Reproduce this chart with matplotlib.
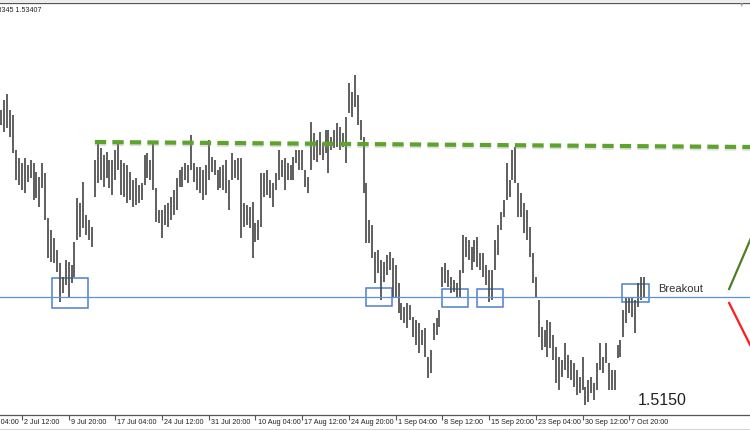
import matplotlib
matplotlib.use('Agg')
import numpy as np
import matplotlib.pyplot as plt
import matplotlib.transforms as mtransforms
import matplotlib.patheffects as pe
from matplotlib.patches import Rectangle

plt.rcParams['font.family'] = ['Liberation Sans', 'DejaVu Sans']

# GBPUSD H4 bars, high / low
highs = [1.5700, 1.5720, 1.5732, 1.5700, 1.5690, 1.5620, 1.5604, 1.5594, 1.5604, 1.5590,
         1.5600, 1.5594, 1.5576, 1.5566, 1.5594, 1.5574, 1.5484, 1.5460, 1.5444, 1.5420,
         1.5394, 1.5366, 1.5400, 1.5396, 1.5390, 1.5436, 1.5524, 1.5514, 1.5556, 1.5490,
         1.5480, 1.5466, 1.5600, 1.5634, 1.5624, 1.5610, 1.5616, 1.5600, 1.5600, 1.5620,
         1.5632, 1.5600, 1.5594, 1.5590, 1.5576, 1.5560, 1.5564, 1.5550, 1.5554, 1.5610,
         1.5614, 1.5600, 1.5634, 1.5544, 1.5500, 1.5500, 1.5510, 1.5514, 1.5526, 1.5540,
         1.5564, 1.5580, 1.5586, 1.5594, 1.5590, 1.5650, 1.5594, 1.5586, 1.5586, 1.5580,
         1.5590, 1.5640, 1.5606, 1.5600, 1.5580, 1.5586, 1.5590, 1.5600, 1.5560, 1.5614,
         1.5600, 1.5604, 1.5604, 1.5514, 1.5510, 1.5506, 1.5516, 1.5474, 1.5480, 1.5574,
         1.5574, 1.5580, 1.5560, 1.5554, 1.5574, 1.5620, 1.5600, 1.5604, 1.5594, 1.5590,
         1.5606, 1.5620, 1.5620, 1.5620, 1.5580, 1.5566, 1.5676, 1.5654, 1.5640, 1.5656,
         1.5634, 1.5660, 1.5660, 1.5646, 1.5660, 1.5674, 1.5666, 1.5654, 1.5686, 1.5754,
         1.5736, 1.5770, 1.5730, 1.5680, 1.5646, 1.5554, 1.5480, 1.5470, 1.5416, 1.5420,
         1.5400, 1.5396, 1.5410, 1.5416, 1.5404, 1.5390, 1.5354, 1.5314, 1.5306, 1.5314,
         1.5310, 1.5286, 1.5280, 1.5274, 1.5260, 1.5264, 1.5206, 1.5220, 1.5274, 1.5284,
         1.5300, 1.5386, 1.5394, 1.5380, 1.5366, 1.5360, 1.5354, 1.5380, 1.5450, 1.5446,
         1.5440, 1.5426, 1.5440, 1.5446, 1.5414, 1.5414, 1.5390, 1.5380, 1.5380, 1.5440,
         1.5470, 1.5496, 1.5520, 1.5594, 1.5560, 1.5620, 1.5626, 1.5554, 1.5534, 1.5514,
         1.5500, 1.5466, 1.5414, 1.5366, 1.5320, 1.5266, 1.5260, 1.5280, 1.5276, 1.5250,
         1.5226, 1.5206, 1.5200, 1.5234, 1.5210, 1.5200, 1.5194, 1.5180, 1.5166, 1.5206,
         1.5146, 1.5160, 1.5166, 1.5154, 1.5194, 1.5234, 1.5206, 1.5234, 1.5194, 1.5180,
         1.5180, 1.5230, 1.5240, 1.5300, 1.5326, 1.5326, 1.5326, 1.5320, 1.5354, 1.5366,
         1.5366]
lows = [1.5670, 1.5656, 1.5664, 1.5646, 1.5614, 1.5560, 1.5550, 1.5540, 1.5534, 1.5556,
        1.5564, 1.5520, 1.5524, 1.5506, 1.5544, 1.5480, 1.5404, 1.5396, 1.5394, 1.5376,
        1.5316, 1.5334, 1.5350, 1.5326, 1.5354, 1.5366, 1.5440, 1.5446, 1.5464, 1.5450,
        1.5440, 1.5426, 1.5526, 1.5554, 1.5560, 1.5546, 1.5564, 1.5544, 1.5530, 1.5560,
        1.5580, 1.5530, 1.5526, 1.5514, 1.5520, 1.5506, 1.5510, 1.5514, 1.5520, 1.5550,
        1.5564, 1.5560, 1.5540, 1.5476, 1.5474, 1.5444, 1.5470, 1.5466, 1.5480, 1.5490,
        1.5500, 1.5546, 1.5546, 1.5560, 1.5554, 1.5580, 1.5556, 1.5540, 1.5534, 1.5520,
        1.5530, 1.5560, 1.5576, 1.5570, 1.5540, 1.5544, 1.5540, 1.5534, 1.5500, 1.5560,
        1.5564, 1.5560, 1.5444, 1.5466, 1.5470, 1.5464, 1.5404, 1.5436, 1.5440, 1.5466,
        1.5526, 1.5530, 1.5524, 1.5506, 1.5540, 1.5560, 1.5566, 1.5540, 1.5560, 1.5560,
        1.5560, 1.5594, 1.5580, 1.5580, 1.5546, 1.5534, 1.5580, 1.5600, 1.5596, 1.5610,
        1.5600, 1.5614, 1.5574, 1.5620, 1.5624, 1.5626, 1.5620, 1.5626, 1.5594, 1.5694,
        1.5686, 1.5706, 1.5670, 1.5640, 1.5534, 1.5434, 1.5434, 1.5404, 1.5354, 1.5374,
        1.5320, 1.5356, 1.5370, 1.5380, 1.5324, 1.5326, 1.5294, 1.5280, 1.5274, 1.5264,
        1.5280, 1.5246, 1.5230, 1.5214, 1.5230, 1.5206, 1.5164, 1.5174, 1.5240, 1.5250,
        1.5266, 1.5346, 1.5354, 1.5346, 1.5334, 1.5336, 1.5326, 1.5326, 1.5374, 1.5406,
        1.5400, 1.5380, 1.5396, 1.5386, 1.5380, 1.5366, 1.5350, 1.5316, 1.5320, 1.5380,
        1.5410, 1.5460, 1.5486, 1.5520, 1.5526, 1.5560, 1.5554, 1.5486, 1.5486, 1.5454,
        1.5440, 1.5406, 1.5354, 1.5326, 1.5246, 1.5220, 1.5226, 1.5206, 1.5224, 1.5200,
        1.5154, 1.5140, 1.5166, 1.5180, 1.5164, 1.5160, 1.5146, 1.5130, 1.5134, 1.5140,
        1.5110, 1.5116, 1.5134, 1.5120, 1.5140, 1.5180, 1.5174, 1.5194, 1.5140, 1.5140,
        1.5140, 1.5204, 1.5206, 1.5246, 1.5274, 1.5294, 1.5286, 1.5254, 1.5306, 1.5320,
        1.5326]

tick_labels = ['25 Jun 04:00', '2 Jul 12:00', '9 Jul 20:00', '17 Jul 04:00', '24 Jul 12:00',
               '31 Jul 20:00', '10 Aug 04:00', '17 Aug 12:00', '24 Aug 20:00', '1 Sep 04:00',
               '8 Sep 12:00', '15 Sep 20:00', '23 Sep 04:00', '30 Sep 12:00', '7 Oct 20:00']
first_tick = -9
tick_step = 16

# annotations
resistance_x = [32.0, 256.4]
resistance_y = [1.5636, 1.5626]
breakout_level = 1.5326
# (bar from, bar to, price low, price high)
boxes = [(17.3, 29.6, 1.5304, 1.5364),
         (124.8, 133.7, 1.5308, 1.5344),
         (150.9, 159.8, 1.5306, 1.5342),
         (162.9, 171.8, 1.5306, 1.5342),
         (212.5, 221.8, 1.5316, 1.5352)]
up_x, up_y = [249.2, 257.0], [1.5342, 1.5448]
down_x, down_y = [249.2, 256.4], [1.5314, 1.5230]

fig = plt.figure(figsize=(7.5, 4.3), dpi=100)
fig.patches.append(Rectangle((0, 1 - 3 / 430), 1, 3 / 430, transform=fig.transFigure,
                             facecolor='#ececec', edgecolor='none'))
ax = fig.add_axes([0, 15 / 430, 1, 412 / 430])

idx = np.arange(len(highs))
ax.vlines(idx, lows, highs, color='#4c4c4c', lw=1.25)

ax.axhline(breakout_level, color='#5d93dc', lw=0.9)
ax.plot(resistance_x, resistance_y, color='#5da32c', lw=3.0, dashes=(2.7, 1.5),
        solid_capstyle='butt', dash_capstyle='butt',
        path_effects=[pe.SimpleLineShadow(offset=(0, -1.3), shadow_color='#999999', alpha=0.3),
                      pe.Normal()])
for x0, x1, p0, p1 in boxes:
    ax.add_patch(Rectangle((x0, p0), x1 - x0, p1 - p0, fill=False,
                           edgecolor='#4d80cf', lw=1.1))
ax.plot(up_x, up_y, color='#4e7d22', lw=1.6, clip_on=True)
ax.plot(down_x, down_y, color='#ff1a1a', lw=1.6, clip_on=True)

ax.text(224.8, 1.5342, 'Breakout', fontsize=8, color='#333333', va='center', ha='left')
ax.text(218.0, 1.5118, '1.5150', fontsize=11.5, color='#222222', va='center', ha='left')

ax.set_xlim(-0.5, 256.35)
ax.set_ylim(1.5090, 1.5914)

ticks = [first_tick + tick_step * k for k in range(len(tick_labels))]
ax.set_xticks([t for t in ticks if t >= 0])
ax.set_xticklabels([])
ax.tick_params(axis='x', direction='out', length=3.6, width=0.8, color='#555555')
ax.set_yticks([])
lab_tr = mtransforms.blended_transform_factory(ax.transData, fig.transFigure)
for t, lab in zip(ticks, tick_labels):
    ax.text(t + 0.7, 1 - 423 / 430, lab, transform=lab_tr, fontsize=5.2,
            color='#222222', ha='left', va='center', clip_on=False)

for s in ['left', 'right']:
    ax.spines[s].set_visible(False)
ax.spines['bottom'].set_color('#555555')
ax.spines['bottom'].set_linewidth(0.9)
ax.spines['top'].set_color('#555555')
ax.spines['top'].set_linewidth(0.9)

fig.text(41 / 750, 1 - 9.5 / 430, 'GBPUSD,H4  1.53295 1.53445 1.53345 1.53407',
         fontsize=5.1, color='#222222', ha='right', va='center')
fig.text(742 / 750, 1 - 5 / 430, '\u25bc', fontsize=4, color='#aaaaaa', ha='center', va='center')
fig.add_artist(plt.Line2D([0, 1], [1 - 428.5 / 430] * 2, transform=fig.transFigure,
                          color='#d8d8d8', lw=0.8))

fig.savefig('out.png', dpi=100)
